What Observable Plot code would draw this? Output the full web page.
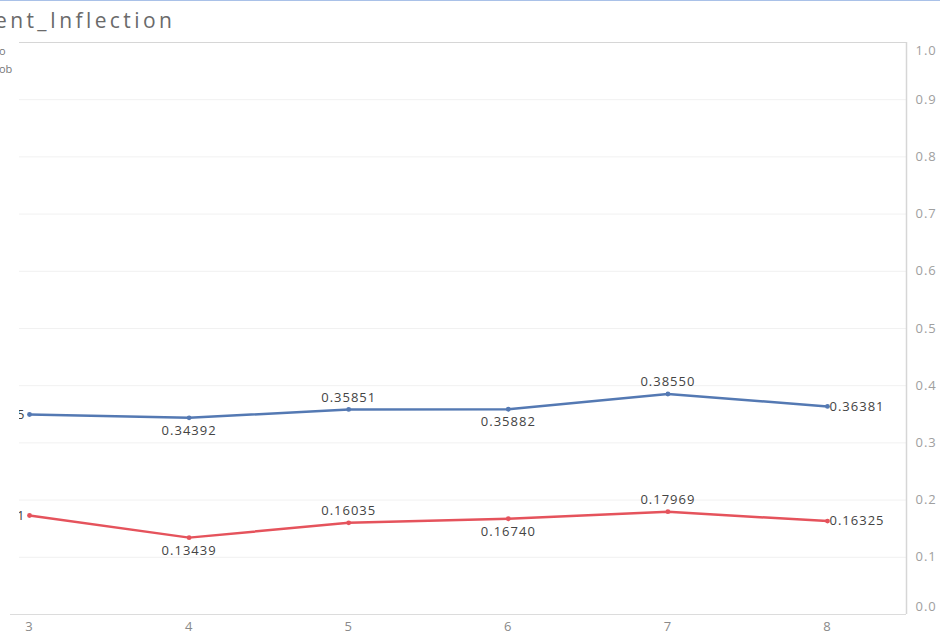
<!DOCTYPE html>
<html>
<head>
<meta charset="utf-8">
<script src="https://cdn.jsdelivr.net/npm/d3@7"></script>
<script src="https://cdn.jsdelivr.net/npm/@observablehq/plot@0.6"></script>
<style>
  html, body { margin: 0; padding: 0; background: #fff; overflow: hidden; }
  #wrap { position: relative; width: 940px; height: 634px; overflow: hidden; border-top: 1px solid #a9c1e8; box-sizing: border-box; font-family: "Open Sans", "DejaVu Sans", sans-serif; }
  #title { position: absolute; left: -5px; top: 5px; font-size: 21px; color: #6a6a6a; letter-spacing: 3.4px; white-space: nowrap; }
  .leg { position: absolute; left: -1px; font-size: 11px; color: #777; }
  #chart { position: absolute; left: 0; top: -1px; }
</style>
</head>
<body>
<div id="wrap">
  <div id="chart"></div>
  <div id="title">ent_Inflection</div>
  <div class="leg" style="top:42px">o</div>
  <div class="leg" style="top:60px">ob</div>
</div>
<script>
const xs = [3, 4, 5, 6, 7, 8];
const blueValues = [0.34965, 0.34392, 0.35851, 0.35882, 0.38550, 0.36381];
const redValues  = [0.17311, 0.13439, 0.16035, 0.16740, 0.17969, 0.16325];
const yTicks = [0.0, 0.1, 0.2, 0.3, 0.4, 0.5, 0.6, 0.7, 0.8, 0.9, 1.0];

const series = [
  {name: "blue", color: "#5479b3", values: blueValues},
  {name: "red", color: "#e5535c", values: redValues}
];
const rows = series.flatMap(s => s.values.map((v, i) => ({series: s.name, color: s.color, x: xs[i], y: v, i, n: s.values.length})));
const first = rows.filter(d => d.i === 0);
const last = rows.filter(d => d.i === d.n - 1);
const above = rows.filter(d => d.i > 0 && d.i < d.n - 1 && d.i % 2 === 0);
const below = rows.filter(d => d.i > 0 && d.i < d.n - 1 && d.i % 2 === 1);
const fmt = d => d.y.toFixed(5);

const W = 940, H = 634;
const mL = 19, mR = 34;
// x(3) at 29px, x(8) at 827px
const unit = (827 - 29) / 5;
const xDomain = [3 - (29 - mL) / unit, 8 + (W - mR - 827) / unit];
const axisStart = 3 - 19 / unit;

const chart = Plot.plot({
  width: W,
  height: H,
  marginTop: 42,
  marginBottom: 20,
  marginLeft: mL,
  marginRight: mR,
  style: {fontFamily: "'Open Sans', 'DejaVu Sans', sans-serif", background: "transparent", letterSpacing: "1px"},
  x: {domain: xDomain, axis: null},
  y: {domain: [0, 1], axis: null},
  marks: [
    Plot.ruleY(yTicks.filter(t => t > 0 && t < 1), {y: d => d, stroke: "#f1f1f1", strokeWidth: 1}),
    Plot.ruleY([1.0], {stroke: "#d6d6d6", strokeWidth: 1}),
    Plot.ruleY([0.0], {x1: axisStart, x2: xDomain[1], stroke: "#dcdcdc", strokeWidth: 1}),
    Plot.ruleX([xDomain[1]], {y1: 0, y2: 1, stroke: "#d6d6d6", strokeWidth: 1.5}),
    Plot.text(yTicks.filter(t => t > 0 && t < 1), {x: xDomain[1], y: d => d, text: d => d.toFixed(1), textAnchor: "start", dx: 9, fill: "#a0a0a0", fontSize: 13}),
    Plot.text([1.0], {x: xDomain[1], y: d => d, text: d => d.toFixed(1), textAnchor: "start", dx: 9, dy: 8, fill: "#a0a0a0", fontSize: 13}),
    Plot.text([0.0], {x: xDomain[1], y: d => d, text: d => d.toFixed(1), textAnchor: "start", dx: 9, dy: -8, fill: "#a0a0a0", fontSize: 13}),
    Plot.text(xs, {x: d => d, y: 0, text: d => String(d), dy: 12, fill: "#8a8a8a", fontSize: 13}),
    ...series.map(s => Plot.line(rows.filter(d => d.series === s.name), {x: "x", y: "y", stroke: s.color, strokeWidth: 2.5})),
    Plot.dot(rows, {x: "x", y: "y", fill: "color", r: 2.4}),
    Plot.text(first, {x: "x", y: "y", text: fmt, textAnchor: "end", dx: -4, fill: "#444", fontSize: 13, clip: true}),
    Plot.text(last, {x: "x", y: "y", text: fmt, textAnchor: "start", dx: 2, fill: "#444", fontSize: 13}),
    Plot.text(above, {x: "x", y: "y", text: fmt, dy: -12, fill: "#444", fontSize: 13}),
    Plot.text(below, {x: "x", y: "y", text: fmt, dy: 13, fill: "#444", fontSize: 13})
  ]
});
document.getElementById("chart").appendChild(chart);
</script>
</body>
</html>
